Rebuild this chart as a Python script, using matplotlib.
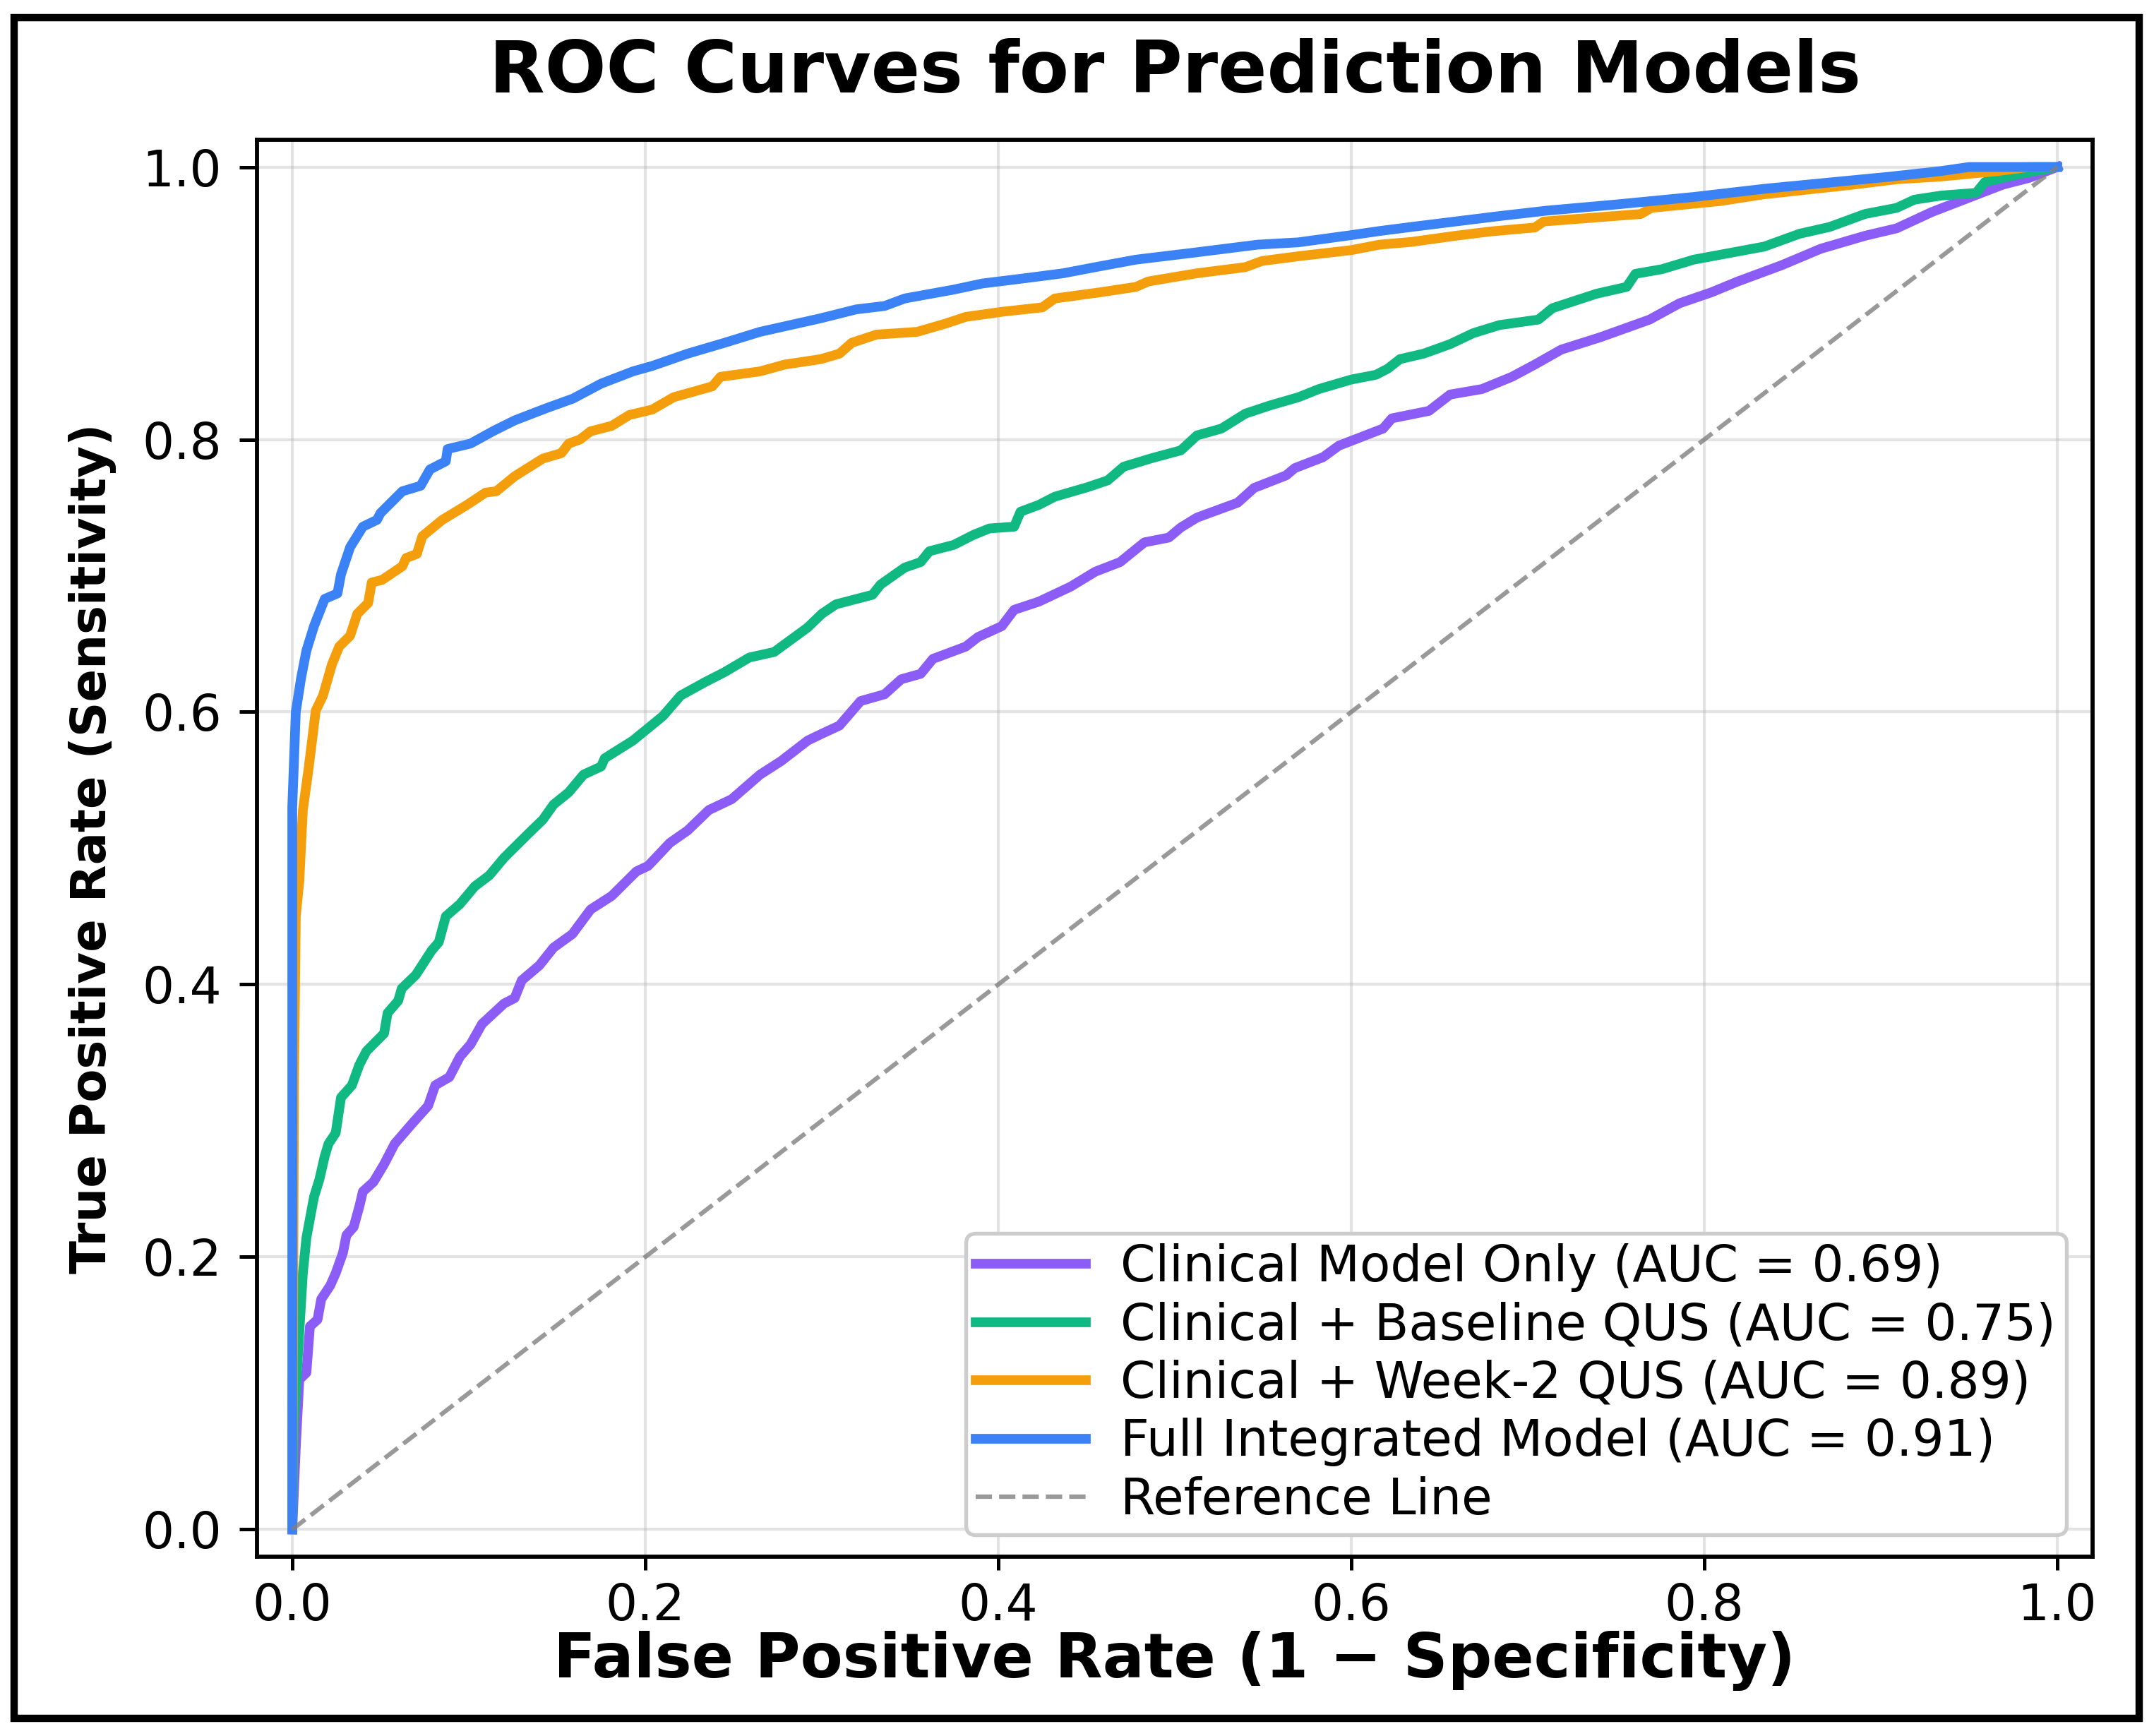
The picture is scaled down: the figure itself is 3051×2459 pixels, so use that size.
import matplotlib
matplotlib.use("Agg")
import matplotlib.pyplot as plt
from matplotlib.patches import Rectangle

# ---------------- data ----------------
title = "ROC Curves for Prediction Models"
xlabel = "False Positive Rate (1 \u2212 Specificity)"
ylabel = "True Positive Rate (Sensitivity)"

labels = [
    "Clinical Model Only (AUC = 0.69)",
    "Clinical + Baseline QUS (AUC = 0.75)",
    "Clinical + Week-2 QUS (AUC = 0.89)",
    "Full Integrated Model (AUC = 0.91)",
]
ref_label = "Reference Line"
colors = ["#8B5CF6", "#10B981", "#F59E0B", "#3B82F6"]

clin_fpr = [0, 0.002, 0.004, 0.008, 0.010, 0.0143, 0.0164, 0.0215, 0.0246, 0.0287,
            0.0307, 0.0348, 0.038, 0.040, 0.046, 0.052, 0.058, 0.062, 0.068, 0.077,
            0.081, 0.089, 0.095, 0.101, 0.1075, 0.120, 0.126, 0.130, 0.140, 0.148,
            0.1587, 0.169, 0.181, 0.195, 0.2016, 0.214, 0.224, 0.236, 0.249, 0.265,
            0.277, 0.292, 0.300, 0.310, 0.322, 0.3356, 0.345, 0.356, 0.363, 0.3816,
            0.3885, 0.402, 0.409, 0.423, 0.441, 0.455, 0.469, 0.4828, 0.4966, 0.5034,
            0.5126, 0.5356, 0.545, 0.563, 0.568, 0.584, 0.593, 0.602, 0.618, 0.623,
            0.644, 0.656, 0.674, 0.691, 0.704, 0.719, 0.741, 0.769, 0.786, 0.804,
            0.819, 0.844, 0.866, 0.891, 0.909, 0.929, 0.949, 0.969, 0.984, 1.0]
clin_tpr = [0, 0.06, 0.11, 0.115, 0.149, 0.154, 0.169, 0.179, 0.188, 0.203,
            0.216, 0.222, 0.237, 0.248, 0.255, 0.268, 0.283, 0.289, 0.298, 0.311,
            0.326, 0.332, 0.347, 0.356, 0.371, 0.386, 0.390, 0.403, 0.414, 0.427,
            0.437, 0.455, 0.465, 0.483, 0.487, 0.504, 0.513, 0.528, 0.536, 0.554,
            0.564, 0.579, 0.584, 0.590, 0.608, 0.613, 0.624, 0.628, 0.639, 0.648,
            0.655, 0.663, 0.675, 0.681, 0.692, 0.703, 0.710, 0.7245, 0.728, 0.7354,
            0.7427, 0.7536, 0.7645, 0.7736, 0.779, 0.787, 0.7955, 0.800, 0.808, 0.8155,
            0.821, 0.833, 0.837, 0.846, 0.855, 0.866, 0.875, 0.888, 0.900, 0.908,
            0.916, 0.928, 0.940, 0.9495, 0.955, 0.967, 0.977, 0.987, 0.992, 1.0]

base_fpr = [0, 0.001, 0.004, 0.006, 0.008, 0.0123, 0.0154, 0.0184, 0.0205, 0.0246,
            0.0276, 0.0338, 0.038, 0.042, 0.052, 0.054, 0.060, 0.062, 0.070, 0.079,
            0.083, 0.087, 0.095, 0.1034, 0.1116, 0.120, 0.134, 0.142, 0.148, 0.1566,
            0.165, 0.175, 0.177, 0.193, 0.210, 0.220, 0.234, 0.2446, 0.259, 0.273,
            0.292, 0.300, 0.308, 0.3287, 0.3333, 0.347, 0.356, 0.361, 0.3747, 0.386,
            0.395, 0.409, 0.4126, 0.423, 0.432, 0.4506, 0.462, 0.471, 0.487, 0.5034,
            0.5126, 0.5264, 0.540, 0.554, 0.570, 0.5816, 0.600, 0.614, 0.6207, 0.6276,
            0.641, 0.656, 0.669, 0.684, 0.706, 0.714, 0.739, 0.756, 0.761, 0.776,
            0.794, 0.834, 0.854, 0.871, 0.891, 0.909, 0.919, 0.934, 0.954, 0.959,
            0.979, 1.0]
base_tpr = [0, 0.08, 0.145, 0.188, 0.214, 0.244, 0.257, 0.274, 0.283, 0.291,
            0.317, 0.326, 0.341, 0.351, 0.364, 0.379, 0.388, 0.397, 0.407, 0.425,
            0.431, 0.450, 0.459, 0.472, 0.480, 0.493, 0.511, 0.521, 0.532, 0.541,
            0.554, 0.560, 0.566, 0.579, 0.597, 0.612, 0.622, 0.629, 0.640, 0.644,
            0.662, 0.672, 0.679, 0.686, 0.6935, 0.706, 0.710, 0.718, 0.7226, 0.730,
            0.7347, 0.736, 0.747, 0.752, 0.758, 0.765, 0.770, 0.780, 0.7863, 0.792,
            0.803, 0.808, 0.819, 0.825, 0.831, 0.837, 0.844, 0.8475, 0.852, 0.859,
            0.863, 0.870, 0.878, 0.884, 0.888, 0.8964, 0.907, 0.912, 0.9216, 0.925,
            0.932, 0.9416, 0.951, 0.956, 0.9655, 0.970, 0.976, 0.979, 0.981, 0.989,
            0.995, 1.0]

wk2_fpr = [0, 0.001, 0.002, 0.004, 0.006, 0.0092, 0.0133, 0.0174, 0.0225, 0.0266,
           0.0328, 0.0368, 0.043, 0.045, 0.051, 0.0624, 0.0645, 0.0706, 0.0737, 0.085,
           0.099, 0.1095, 0.1156, 0.126, 0.142, 0.1525, 0.1566, 0.163, 0.169, 0.181,
           0.191, 0.204, 0.216, 0.238, 0.2426, 0.265, 0.279, 0.2995, 0.310, 0.317,
           0.331, 0.354, 0.370, 0.3816, 0.402, 0.425, 0.432, 0.4575, 0.478, 0.485,
           0.5126, 0.540, 0.5494, 0.570, 0.600, 0.616, 0.634, 0.659, 0.679, 0.704,
           0.709, 0.739, 0.764, 0.770, 0.809, 0.834, 0.884, 0.909, 0.934, 0.966,
           0.984, 1.0]
wk2_tpr = [0, 0.33, 0.45, 0.476, 0.528, 0.558, 0.601, 0.612, 0.635, 0.648,
           0.656, 0.672, 0.680, 0.695, 0.697, 0.707, 0.713, 0.716, 0.729, 0.741,
           0.752, 0.761, 0.762, 0.773, 0.786, 0.790, 0.797, 0.800, 0.806, 0.810,
           0.818, 0.822, 0.831, 0.839, 0.846, 0.850, 0.855, 0.859, 0.863, 0.871,
           0.877, 0.879, 0.885, 0.890, 0.8937, 0.897, 0.9035, 0.908, 0.912, 0.916,
           0.922, 0.9265, 0.931, 0.9345, 0.939, 0.943, 0.945, 0.9495, 0.9527, 0.9556,
           0.960, 0.963, 0.9655, 0.970, 0.975, 0.980, 0.987, 0.991, 0.993, 0.997,
           1.0, 1.0]

full_fpr = [0, 0.0, 0.002, 0.005, 0.008, 0.0123, 0.0184, 0.0256, 0.0276, 0.0328,
            0.040, 0.048, 0.050, 0.0624, 0.0727, 0.078, 0.087, 0.088, 0.101, 0.1136,
            0.126, 0.144, 0.159, 0.175, 0.193, 0.204, 0.224, 0.245, 0.265, 0.2995,
            0.3195, 0.3356, 0.347, 0.3747, 0.391, 0.416, 0.4368, 0.455, 0.478, 0.510,
            0.547, 0.570, 0.600, 0.616, 0.634, 0.659, 0.684, 0.711, 0.751, 0.794,
            0.834, 0.874, 0.906, 0.934, 0.950, 1.0]
full_tpr = [0, 0.53, 0.600, 0.625, 0.645, 0.663, 0.683, 0.687, 0.701, 0.721,
            0.736, 0.741, 0.746, 0.762, 0.766, 0.778, 0.784, 0.793, 0.797, 0.806,
            0.814, 0.823, 0.830, 0.841, 0.850, 0.854, 0.863, 0.871, 0.879, 0.889,
            0.8955, 0.898, 0.9035, 0.910, 0.9145, 0.9185, 0.922, 0.9265, 0.932, 0.937,
            0.943, 0.9447, 0.950, 0.953, 0.956, 0.960, 0.964, 0.968, 0.9726, 0.978,
            0.984, 0.989, 0.993, 0.997, 1.0, 1.0]

ref_x = [0, 1]
ref_y = [0, 1]

curves_fpr = [clin_fpr, base_fpr, wk2_fpr, full_fpr]
curves_tpr = [clin_tpr, base_tpr, wk2_tpr, full_tpr]

# ---------------- figure ----------------
plt.rcParams['font.family'] = ['DejaVu Sans']
fig = plt.figure(figsize=(3051 / 300, 2459 / 300), dpi=300)
ax = fig.add_axes([0.1193, 0.1033, 0.8522, 0.8162])

for fx, ty, c, lab in zip(curves_fpr, curves_tpr, colors, labels):
    ax.plot(fx, ty, color=c, lw=3.3, label=lab, solid_joinstyle='round')
ax.plot(ref_x, ref_y, linestyle='--', color='gray', alpha=0.8, lw=1.5, label=ref_label)

ax.set_xlim(-0.02, 1.02)
ax.set_ylim(-0.02, 1.02)
ax.grid(True, color='#b0b0b0', alpha=0.35, lw=1.0)
ax.set_axisbelow(True)

for s in ax.spines.values():
    s.set_linewidth(1.4)
ax.tick_params(axis='x', labelsize=17, length=4.6, width=1.2, pad=4.0)
ax.tick_params(axis='y', labelsize=17, length=6.0, width=1.2, pad=6)

ax.set_title(title, fontsize=24.5, fontweight='bold', pad=16)
ax.set_xlabel(xlabel, fontsize=21, fontweight='bold')
ax.set_ylabel(ylabel, fontsize=16.5, fontweight='bold')
ax.xaxis.set_label_coords(0.5, -0.0523)
ax.yaxis.set_label_coords(-0.0765, 0.5)

leg = ax.legend(loc='lower left', bbox_to_anchor=(0.386, 0.0154, 0.5996, 0.2),
                mode='expand', borderaxespad=0, fontsize=17, labelspacing=0.19,
                handlelength=2.2, handletextpad=0.7, borderpad=0.2,
                fancybox=True, framealpha=1.0, edgecolor='0.8')
leg.get_frame().set_linewidth(1.3)

fig.patches.append(Rectangle((0.0066, 0.0102), 0.9865, 0.9796, transform=fig.transFigure,
                             fill=False, edgecolor='black', lw=2.5, zorder=10))

fig.savefig("out.png", dpi=300)
